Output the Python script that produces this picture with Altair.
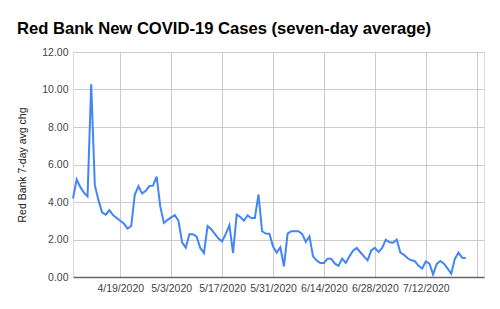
import altair as alt
import pandas as pd

# Daily seven-day average of new cases, 4/6/2020 through 7/23/2020
start_date = "2020-04-06"
avg_cases = [
    4.18, 5.20, 4.80, 4.50, 4.30, 10.28, 4.90, 4.10, 3.45, 3.32,
    3.56, 3.30, 3.15, 3.00, 2.85, 2.58, 2.72, 4.40, 4.85, 4.45,
    4.60, 4.85, 4.87, 5.35, 3.75, 2.88, 3.05, 3.18, 3.30, 3.00,
    1.85, 1.57, 2.28, 2.28, 2.15, 1.55, 1.28, 2.72, 2.55, 2.30,
    2.05, 1.90, 2.30, 2.76, 1.28, 3.33, 3.20, 3.00, 3.29, 3.15,
    3.15, 4.40, 2.44, 2.32, 2.31, 1.62, 1.30, 1.58, 0.57, 2.31,
    2.44, 2.44, 2.44, 2.30, 1.87, 2.17, 1.10, 0.88, 0.75, 0.75,
    0.98, 0.98, 0.71, 0.59, 0.98, 0.75, 1.10, 1.40, 1.55, 1.32,
    1.10, 0.89, 1.42, 1.55, 1.33, 1.55, 1.99, 1.85, 1.83, 2.00,
    1.30, 1.18, 1.00, 0.89, 0.85, 0.60, 0.45, 0.83, 0.71, 0.14,
    0.70, 0.85, 0.71, 0.45, 0.18, 0.98, 1.30, 1.02, 1.01,
]
y_ticks = [0, 2, 4, 6, 8, 10, 12]
x_tick_dates = ["2020-04-19", "2020-05-03", "2020-05-17", "2020-05-31",
                "2020-06-14", "2020-06-28", "2020-07-12", "2020-07-26"]
x_domain = ["2020-04-06", "2020-07-28"]

dates = pd.date_range(start_date, periods=len(avg_cases), freq="D")
df = pd.DataFrame({"date": dates.strftime("%Y-%m-%d"), "avg": avg_cases})


def utc_dt(s):
    t = pd.Timestamp(s)
    return alt.DateTime(year=t.year, month=t.month, date=t.day, utc=True)


# the last gridline (7/26) carries no label
cutoff_ms = int(pd.Timestamp("2020-07-20", tz="UTC").value // 10**6)

FONT = "Liberation Sans"

chart = (
    alt.Chart(df)
    .mark_line(color="#4285F4", strokeWidth=2)
    .encode(
        x=alt.X(
            "date:T",
            scale=alt.Scale(type="utc", domain=[utc_dt(d) for d in x_domain]),
            axis=alt.Axis(
                title=None,
                values=[utc_dt(d) for d in x_tick_dates],
                labelExpr=f"datum.value > {cutoff_ms} ? '' : utcFormat(datum.value, '%-m/%-d/%Y')",
                labelOverlap=False,
                grid=True,
                gridColor="#cccccc",
                ticks=False,
                # the axis line doubles as the dark zero baseline
                domain=True,
                domainColor="#666666",
                domainWidth=1.5,
                labelFont=FONT,
                labelFontSize=10.5,
                labelColor="#444444",
                labelPadding=6,
            ),
        ),
        y=alt.Y(
            "avg:Q",
            scale=alt.Scale(domain=[0, 12], nice=False),
            axis=alt.Axis(
                title="Red Bank 7-day avg chg",
                values=y_ticks,
                format=".2f",
                labelOverlap=False,
                grid=True,
                gridColor="#cccccc",
                ticks=False,
                domain=False,
                labelFont=FONT,
                labelFontSize=10.5,
                labelColor="#444444",
                labelPadding=5,
                titleFont=FONT,
                titleFontSize=10.5,
                titleFontWeight="normal",
                titleColor="#222222",
                titlePadding=14,
            ),
        ),
    )
    .properties(
        width=411,
        height=225,
        autosize=alt.AutoSizeParams(type="none"),
        padding={"left": 73, "top": 52, "right": 16, "bottom": 32},
        title=alt.TitleParams(
            text="Red Bank New COVID-19 Cases (seven-day average)",
            anchor="start",
            frame="group",
            baseline="alphabetic",
            offset=19,
            dx=-56,
            dy=23,
            font=FONT,
            fontSize=16.6,
            fontWeight="bold",
            color="#000000",
        ),
    )
    .configure_view(stroke=None)
    .configure(background="white")
)

chart.save("out.html", embed_options={"renderer": "svg", "actions": False})
